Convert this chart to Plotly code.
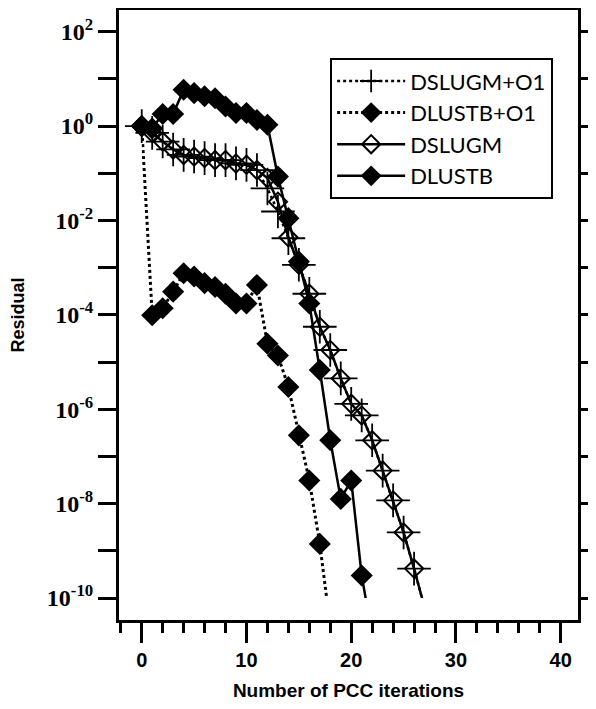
import plotly.graph_objects as go

# ---------------- data ----------------
x_dlustb = list(range(0, 23))
y_dlustb = [1.0, 0.89, 1.8, 1.8, 5.9, 5.0, 4.3, 3.9, 2.6, 1.9, 1.9, 1.35, 1.07,
            0.085, 0.0112, 1.35e-3, 1.74e-4, 6.8e-6, 2.2e-7, 1.26e-8, 3.1e-8,
            3.0e-10, 1.6e-11]

x_dlustb_o1 = list(range(0, 19))
y_dlustb_o1 = [1.0, 9.8e-5, 1.38e-4, 3.1e-4, 7.6e-4, 6.5e-4, 4.7e-4, 3.9e-4,
               2.8e-4, 1.74e-4, 1.74e-4, 4.3e-4, 2.45e-5, 1.38e-5, 2.95e-6,
               2.8e-7, 3.1e-8, 1.4e-9, 2.5e-11]

x_dslugm = list(range(0, 28))
y_dslugm = [1.0, 0.72, 0.47, 0.32, 0.245, 0.226, 0.21, 0.19, 0.19, 0.162, 0.151,
            0.117, 0.079, 0.025, 4.4e-3, 1.15e-3, 2.8e-4, 5.6e-5, 1.8e-5,
            4.5e-6, 1.3e-6, 7.4e-7, 2.2e-7, 5.0e-8, 1.17e-8, 2.45e-9, 4.2e-10,
            6.3e-11]

x_dslugm_o1 = list(range(0, 28))
y_dslugm_o1 = [1.0, 0.72, 0.47, 0.32, 0.245, 0.226, 0.21, 0.19, 0.19, 0.162,
               0.151, 0.117, 0.048, 0.0155, 4.2e-3, 1.15e-3, 2.8e-4, 5.6e-5,
               1.8e-5, 4.5e-6, 1.3e-6, 7.4e-7, 2.2e-7, 5.0e-8, 1.17e-8,
               2.45e-9, 4.2e-10, 6.3e-11]

x_tickvals = [0, 10, 20, 30, 40]
x_ticktext = ["<b>0</b>", "<b>10</b>", "<b>20</b>", "<b>30</b>", "<b>40</b>"]
y_tickvals = [1e-10, 1e-8, 1e-6, 1e-4, 1e-2, 1e0, 1e2]
y_ticktext = ["<b>10<sup>-10</sup></b>", "<b>10<sup>-8</sup></b>",
              "<b>10<sup>-6</sup></b>", "<b>10<sup>-4</sup></b>",
              "<b>10<sup>-2</sup></b>", "<b>10<sup>0</sup></b>",
              "<b>10<sup>2</sup></b>"]
y_minorvals = [1e-9, 1e-7, 1e-5, 1e-3, 1e-1, 1e1]

x_title = "Number of PCC iterations"
y_title = "Residual"

# ---------------- layout geometry ----------------
# the page body has an 8px margin, so the figure is 16px smaller than the window
XO = [-2.17, 41.65]          # outer (frame) range
XI = [0, 40]                 # inner (data) range
YO = [-10.466, 2.46]         # outer log range
YI = [-10, 2]                # inner log range

def dom(outer, inner):
    span = outer[1] - outer[0]
    return [(inner[0] - outer[0]) / span, (inner[1] - outer[0]) / span]

fig = go.Figure()

fig.add_trace(go.Scatter(x=[], y=[], xaxis="x", yaxis="y", showlegend=False,
                         hoverinfo="skip"))
fig.add_trace(go.Scatter(x=[], y=[], xaxis="x3", yaxis="y", showlegend=False,
                         hoverinfo="skip"))

LW = 2.5
fig.add_trace(go.Scatter(
    x=x_dslugm_o1, y=y_dslugm_o1, name="DSLUGM+O1", xaxis="x2", yaxis="y2",
    mode="lines+markers", cliponaxis=False,
    line=dict(color="black", width=LW, dash="dot"),
    marker=dict(symbol="cross-thin", size=24, color="black",
                line=dict(color="black", width=1.8))))
fig.add_trace(go.Scatter(
    x=x_dlustb_o1, y=y_dlustb_o1, name="DLUSTB+O1", xaxis="x2", yaxis="y2",
    mode="lines+markers", cliponaxis=False,
    line=dict(color="black", width=LW + 0.5, dash="dot"),
    marker=dict(symbol="diamond", size=17, color="black")))
fig.add_trace(go.Scatter(
    x=x_dslugm, y=y_dslugm, name="DSLUGM", xaxis="x2", yaxis="y2",
    mode="lines+markers", cliponaxis=False,
    line=dict(color="black", width=LW),
    marker=dict(symbol="diamond-open", size=14, color="black",
                line=dict(color="black", width=2))))
fig.add_trace(go.Scatter(
    x=x_dlustb, y=y_dlustb, name="DLUSTB", xaxis="x2", yaxis="y2",
    mode="lines+markers", cliponaxis=False,
    line=dict(color="black", width=LW),
    marker=dict(symbol="diamond", size=17, color="black")))

fig.update_layout(
    width=580, height=693,
    margin=dict(l=111, r=10, t=2, b=81, autoexpand=False),
    plot_bgcolor="white", paper_bgcolor="white",
    showlegend=True,
    legend=dict(x=0.46, y=0.921, xanchor="left", yanchor="top",
                bgcolor="white", bordercolor="black", borderwidth=2,
                font=dict(family="Lato", size=22, color="black"),
                itemwidth=68, tracegroupgap=0),
    xaxis=dict(domain=[0, 1], range=XO, showgrid=False, zeroline=False,
               automargin=False,
               showline=True, linecolor="black", linewidth=3, mirror=True,
               ticks="outside", ticklen=20, tickwidth=3, tickcolor="black",
               tickvals=x_tickvals, ticktext=x_ticktext,
               tickfont=dict(family="Liberation Sans", size=20, color="black"),
               minor=dict(dtick=2, tick0=0, ticks="outside", ticklen=10,
                          tickwidth=2.5, tickcolor="black"),
               title=dict(text="<b>" + x_title + "</b>",
                          font=dict(family="Liberation Sans", size=19,
                                    color="black"), standoff=23),
               anchor="y"),
    xaxis3=dict(overlaying="x", matches="x", side="top", showgrid=False,
                automargin=False,
                zeroline=False, showticklabels=False, ticks="outside",
                ticklen=4, tickwidth=2, tickcolor="black", dtick=2, tick0=0,
                anchor="y"),
    yaxis=dict(domain=[0, 1], type="log", range=YO, showgrid=False,
               automargin=False,
               zeroline=False, showline=True, linecolor="black", linewidth=3,
               mirror="allticks", ticks="outside", ticklen=18, tickwidth=3,
               tickcolor="black", tickvals=y_tickvals, ticktext=y_ticktext,
               tickfont=dict(family="Liberation Serif", size=24, color="black"),
               minor=dict(tickvals=y_minorvals, ticks="outside", ticklen=8,
                          tickwidth=2.5, tickcolor="black"),
               title=dict(text="<b>" + y_title + "</b>",
                          font=dict(family="Liberation Sans", size=18,
                                    color="black"), standoff=20),
               anchor="x"),
    xaxis2=dict(domain=dom(XO, XI), range=XI, visible=False, anchor="y2"),
    yaxis2=dict(domain=dom(YO, YI), type="log", range=YI, visible=False,
                anchor="x2"),
)

fig.write_html("out.html")
